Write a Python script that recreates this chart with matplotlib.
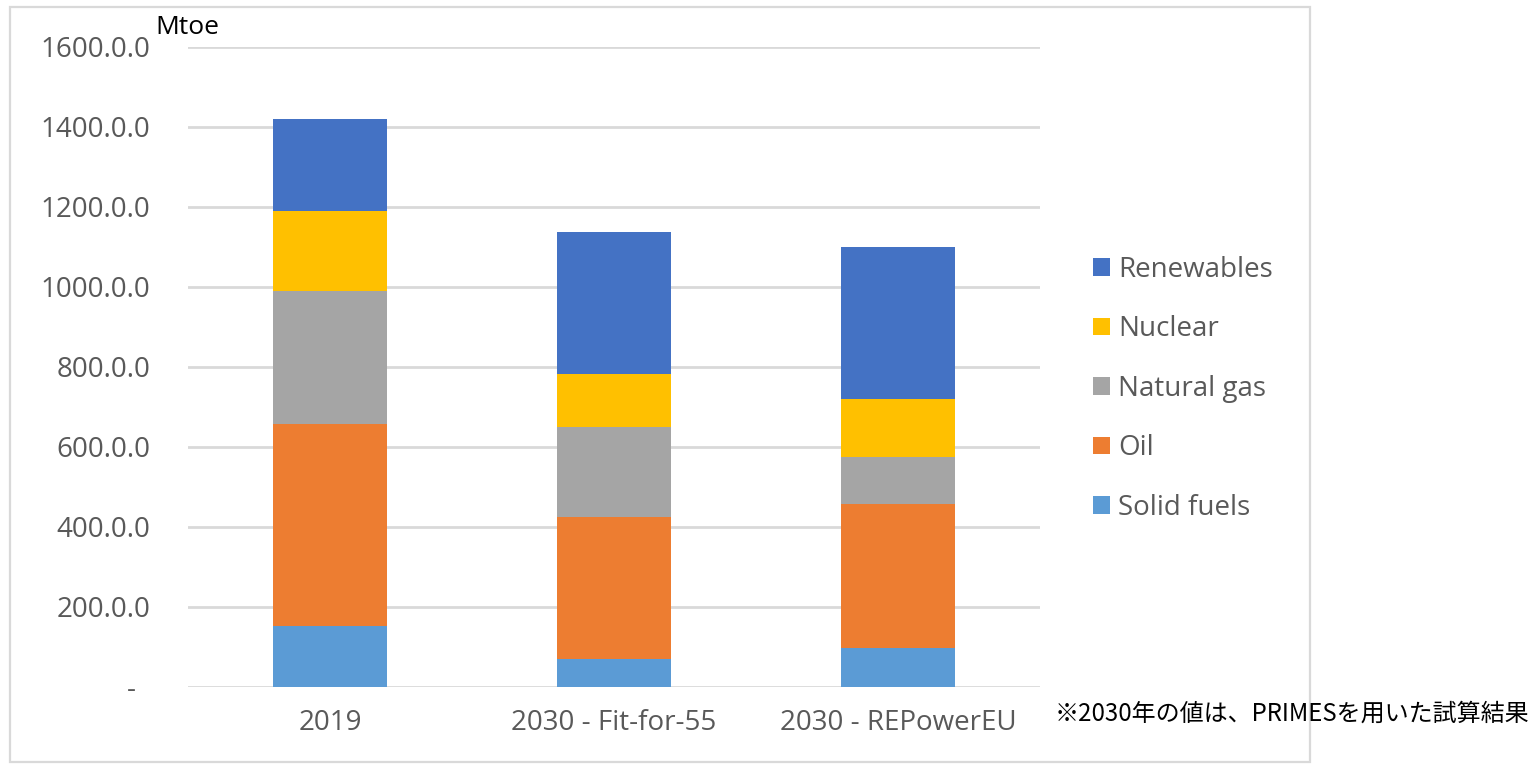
import numpy as np
import matplotlib
matplotlib.use('Agg')
import matplotlib.pyplot as plt
from matplotlib.patches import Rectangle

# data (Mtoe)
escenarios = ['2019', '2030 - Fit-for-55', '2030 - REPowerEU']
fuentes = ['Solid fuels', 'Oil', 'Natural gas', 'Nuclear', 'Renewables']
solid_fuels = [153, 69, 98]
oil = [504, 355, 360]
natural_gas = [332, 225, 117]
nuclear = [200, 133, 144]
renewables = [230, 354, 380]
colores = ['#5B9BD5', '#ED7D31', '#A5A5A5', '#FFC000', '#4472C4']
ticks_y = [0, 200, 400, 600, 800, 1000, 1200, 1400, 1600]

valores = [solid_fuels, oil, natural_gas, nuclear, renewables]

plt.rcParams['font.family'] = ['Open Sans', 'DejaVu Sans']
gris_txt = '#595959'
gris_linea = '#D9D9D9'

W, H = 1532, 764
fig = plt.figure(figsize=(W / 100, H / 100), dpi=100)
fig.patch.set_facecolor('white')

# marco del grafico
fig.patches.append(Rectangle((10 / W, 1 - 762 / H), 1300 / W, 755 / H,
                             transform=fig.transFigure, fill=False,
                             edgecolor=gris_linea, linewidth=1.6))

ax = fig.add_axes([188 / W, 1 - 686.7 / H, 852 / W, 640 / H])
x = np.arange(len(escenarios))
base = np.zeros(len(escenarios))
barras = []
for nombre, vals, c in zip(fuentes, valores, colores):
    b = ax.bar(x, vals, bottom=base, width=0.4, color=c, label=nombre, zorder=3)
    barras.append(b)
    base += np.array(vals)

ax.set_xlim(-0.5, len(escenarios) - 0.5)
ax.set_ylim(0, 1600)
ax.set_yticks(ticks_y)
ax.set_yticklabels([f"{v:.1f}.0" if v else "-  " for v in ticks_y])
ax.set_xticks(x)
ax.set_xticklabels(escenarios)
ax.tick_params(axis='y', length=0, pad=27, labelsize=20, labelcolor=gris_txt)
ax.tick_params(axis='x', length=0, pad=16, labelsize=20, labelcolor=gris_txt)
ax.yaxis.grid(True, color=gris_linea, linewidth=2, zorder=0)
ax.set_axisbelow(True)
for s in ax.spines.values():
    s.set_visible(False)

fig.text(155 / W, 1 - 27 / H, 'Mtoe', fontsize=19, color='black', va='center', ha='left')

leg = ax.legend(handles=barras[::-1], loc='upper left',
                bbox_to_anchor=(1068 / W, 1 - 231 / H), bbox_transform=fig.transFigure,
                frameon=False, fontsize=20, handlelength=0.6, handleheight=0.6,
                handletextpad=0.3, labelspacing=1.13, labelcolor=gris_txt)

fig.text(1055 / W, 1 - 714 / H, '※2030年の値は、PRIMESを用いた試算結果',
         fontsize=17.3, color='black', va='center', ha='left',
         family=['Noto Sans CJK JP', 'DejaVu Sans'])

fig.savefig('out.png', dpi=100, facecolor='white')
